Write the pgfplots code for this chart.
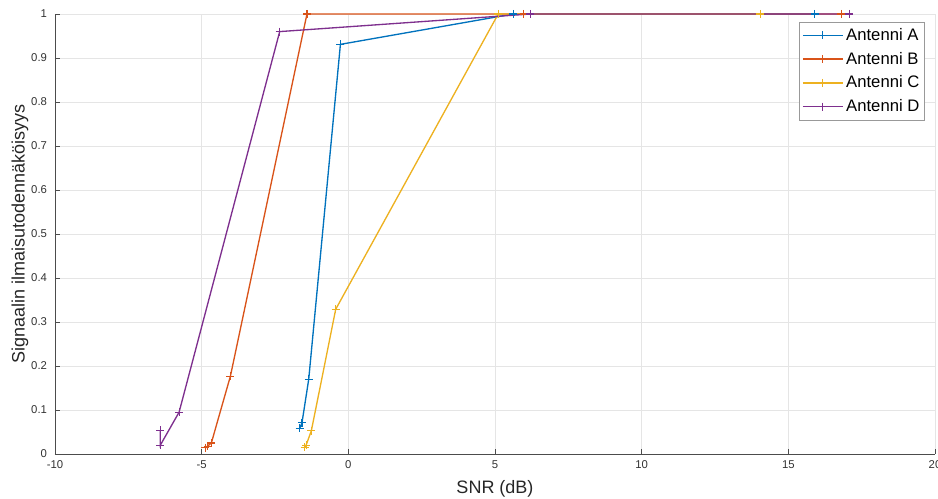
\documentclass[border=0pt]{standalone}
\usepackage{fontspec}
\setmainfont{Liberation Sans}
\usepackage{pgfplots}
\pgfplotsset{compat=1.18}
\definecolor{matA}{RGB}{0,114,189}
\definecolor{matB}{RGB}{217,83,25}
\definecolor{matC}{RGB}{237,177,32}
\definecolor{matD}{RGB}{126,47,142}
\begin{document}
\begin{tikzpicture}
\begin{axis}[
  scale only axis,
  width=660pt, height=330pt,
  xmin=-10, xmax=20, ymin=0, ymax=1,
  xtick={-10,-5,0,5,10,15,20},
  xticklabels={-10,-5,0,5,10,15,20},
  ytick={0,0.1,0.2,0.3,0.4,0.5,0.6,0.7,0.8,0.9,1},
  yticklabels={0,0.1,0.2,0.3,0.4,0.5,0.6,0.7,0.8,0.9,1},
  axis x line*=bottom, axis y line*=left,
  axis line style={-, black!70, line width=0.6pt},
  tick style={black!70, line width=0.6pt},
  major tick length=4pt,
  tick align=inside,
  grid=major,
  grid style={black!10, line width=0.5pt},
  tick label style={font=\fontsize{8.5}{10}\selectfont, text=black!80},
  xticklabel style={yshift=-1.5pt},
  yticklabel style={xshift=-2.5pt},
  xlabel={SNR (dB)},
  ylabel={Signaalin ilmaisutodennäköisyys},
  label style={font=\fontsize{13.5}{16}\selectfont, text=black!85},
  xlabel style={at={(axis description cs:0.5,0)}, anchor=center, yshift=-26.5pt},
  ylabel style={at={(axis description cs:-0.0398,0.5)}, anchor=center},
  legend style={at={(1,1)}, anchor=north east, xshift=-7.5pt, yshift=-6pt,
    draw=black!40, font=\fontsize{12.5}{14}\selectfont, row sep=3.3pt,
    inner xsep=2pt, inner ysep=2.5pt},
  legend cell align=left,
  legend image code/.code={\draw[mark repeat=2,mark phase=2] plot coordinates {(0pt,0pt) (15pt,0pt) (30pt,0pt)};},
  every axis plot/.append style={line width=1pt, mark=+, mark size=3pt, mark options={solid, line width=0.8pt}},
  clip=false,
]
\coordinate (SW) at (rel axis cs:0,0);
\coordinate (NE) at (rel axis cs:1,1);
\addplot[color=matA] coordinates {(-1.66,0.058) (-1.58,0.071) (-1.35,0.170) (-0.27,0.931) (5.62,1) (15.9,1)};
\addlegendentry{Antenni A}
\addplot[color=matB] coordinates {(-4.87,0.014) (-4.80,0.018) (-4.67,0.025) (-4.02,0.177) (-1.41,1) (5.98,1) (16.8,1)};
\addlegendentry{Antenni B}
\addplot[color=matC] coordinates {(-1.49,0.015) (-1.44,0.020) (-1.26,0.053) (-0.43,0.329) (5.11,1) (14.04,1)};
\addlegendentry{Antenni C}
\addplot[color=matD] coordinates {(-6.41,0.054) (-6.41,0.020) (-5.77,0.095) (-2.34,0.96) (6.21,1) (17.07,1)};
\addlegendentry{Antenni D}
\end{axis}
\pgfresetboundingbox
\path ([shift={(-41.25pt,-33.75pt)}]SW) rectangle ([shift={(2.25pt,10.5pt)}]NE);
\end{tikzpicture}
\end{document}
